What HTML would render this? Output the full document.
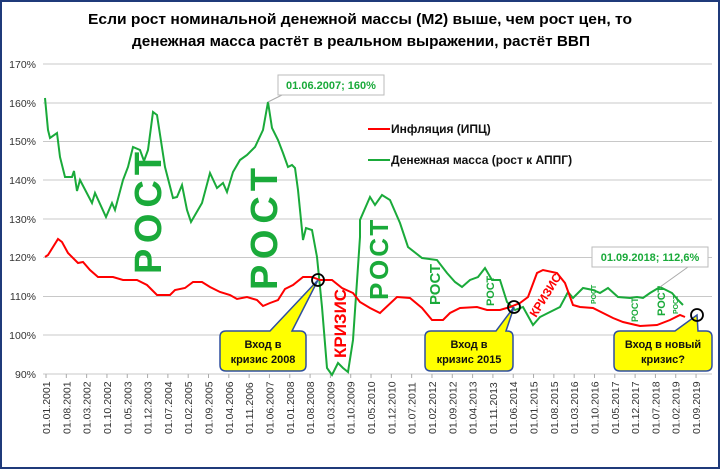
<!DOCTYPE html>
<html><head><meta charset="utf-8"><style>
html,body{margin:0;padding:0;background:#fff}
svg{display:block;font-family:"Liberation Sans","DejaVu Sans",sans-serif}
</style></head><body>
<svg width="720" height="470" viewBox="0 0 720 470" xmlns="http://www.w3.org/2000/svg">
<rect x="1" y="1" width="718" height="467" fill="#fff" stroke="#1f3a7a" stroke-width="2"/>
<g font-weight="bold" font-size="15" fill="#000" text-anchor="middle">
<text x="360" y="24" textLength="544" lengthAdjust="spacingAndGlyphs">Если рост номинальной денежной массы (М2) выше, чем рост цен,  то</text>
<text x="361" y="46" textLength="458" lengthAdjust="spacingAndGlyphs">денежная масса растёт в реальном выражении, растёт ВВП</text>
</g>
<g stroke="#c8c8c8" stroke-width="1">
<line x1="43" y1="64" x2="712" y2="64"/><line x1="43" y1="103" x2="712" y2="103"/>
<line x1="43" y1="141.5" x2="712" y2="141.5"/><line x1="43" y1="180" x2="712" y2="180"/>
<line x1="43" y1="219" x2="712" y2="219"/><line x1="43" y1="257.5" x2="712" y2="257.5"/>
<line x1="43" y1="296.5" x2="712" y2="296.5"/><line x1="43" y1="335" x2="712" y2="335"/>
<line x1="43" y1="374" x2="712" y2="374"/>
</g>
<g font-size="10.5" fill="#333" text-anchor="end">
<text x="36" y="68">170%</text><text x="36" y="107">160%</text><text x="36" y="145">150%</text>
<text x="36" y="184">140%</text><text x="36" y="223">130%</text><text x="36" y="261">120%</text>
<text x="36" y="300">110%</text><text x="36" y="339">100%</text><text x="36" y="378">90%</text>
</g>
<g id="ticks" stroke="#aaa"></g>
<g id="xl" font-size="10.5" fill="#333"></g>
<polyline fill="none" stroke="#1aaa3a" stroke-width="2" points="45,98 48,130 50,138 57,133 60,157 65,177 72,177 74,171 77,191 80,180 92,203 95,193 106,217 112,203 115,210 123,180 128,167 133,147 140,150 144,161 148,150 153,112 157,115 165,167 173,198 177,197 182,185 187,210 191,222 202,203 210,173 217,188 223,183 227,192 233,172 240,160 247,155 255,147 263,130 268,102 272,128 278,140 283,153 288,167 292,165 295,168 298,190 303,240 306,228 312,230 317,257 322,307 327,368 332,375 338,363 343,368 348,372 353,340 360,237 360,220 370,197 375,205 382,195 390,200 400,223 408,247 422,258 437,260 447,273 455,282 462,287 470,280 478,277 485,268 492,280 500,280 507,302 515,310 523,307 533,325 540,317 548,313 560,307 568,292 573,298 583,288 593,290 600,293 608,288 618,297 630,298 637,297 643,298 650,293 660,287 672,293 678,300 683,305"/>
<polyline fill="none" stroke="#ff0000" stroke-width="2" points="45,257 48,255 58,239 62,242 68,253 78,263 83,262 90,270 98,277 113,277 123,280 137,280 147,285 157,295 170,295 175,290 185,288 193,282 202,282 210,287 220,292 230,295 237,299 247,297 257,300 263,306 270,303 278,300 285,289 293,285 303,277 312,277 320,280 332,280 342,288 353,293 360,302 370,308 380,313 397,297 410,298 422,308 432,320 443,320 450,313 460,308 477,307 487,310 500,310 510,307 520,303 528,297 537,273 543,270 557,273 565,283 573,305 580,307 593,308 603,313 613,318 623,322 640,326 657,325 670,320 680,315 685,317"/>
<line x1="368" y1="129" x2="390" y2="129" stroke="#ff0000" stroke-width="2"/>
<text x="391" y="133" font-size="12" font-weight="bold" fill="#111">Инфляция (ИПЦ)</text>
<line x1="368" y1="160" x2="390" y2="160" stroke="#1aaa3a" stroke-width="2"/>
<text x="391" y="164" font-size="12" font-weight="bold" fill="#111">Денежная масса (рост к АППГ)</text>
<line x1="268" y1="102" x2="290" y2="91" stroke="#aaa"/>
<rect x="278" y="75" width="106" height="20" fill="#fff" stroke="#bbb"/>
<text x="331" y="89" font-size="11" font-weight="bold" fill="#1aaa3a" text-anchor="middle">01.06.2007; 160%</text>
<line x1="660" y1="287" x2="688" y2="267" stroke="#aaa"/>
<rect x="592" y="247" width="116" height="20" fill="#fff" stroke="#bbb"/>
<text x="650" y="261" font-size="11" font-weight="bold" fill="#1aaa3a" text-anchor="middle">01.09.2018; 112,6%</text>
<g font-weight="bold" fill="#1aaa3a">
<text transform="translate(161,274) rotate(-90)" font-size="38" letter-spacing="6">РОСТ</text>
<text transform="translate(277,290) rotate(-90)" font-size="38" letter-spacing="6">РОСТ</text>
<text transform="translate(388,300) rotate(-90)" font-size="26" letter-spacing="3">РОСТ</text>
<text transform="translate(440,305) rotate(-90)" font-size="15">РОСТ</text>
<text transform="translate(494,306) rotate(-90)" font-size="11">РОСТ</text>
<text transform="translate(596,304) rotate(-90)" font-size="7">РОСТ</text>
<text transform="translate(638,322) rotate(-90)" font-size="9">РОСТ</text>
<text transform="translate(665,316) rotate(-90)" font-size="11">РОСТ</text>
<text transform="translate(678,314) rotate(-90)" font-size="7">РОСТ</text>
</g>
<text transform="translate(346,358) rotate(-90)" font-size="17" font-weight="bold" fill="#ff0000">КРИЗИС</text>
<text transform="translate(536,318) rotate(-58)" font-size="12" font-weight="bold" fill="#ff0000">КРИЗИС</text>
<g stroke="#2f4f9f" stroke-width="1.5" fill="#ffff00">
<path d="M226,331 L270,331 L318,280 L292,331 L300,331 Q306,331 306,337 L306,365 Q306,371 300,371 L226,371 Q220,371 220,365 L220,337 Q220,331 226,331 Z"/>
<path d="M431,331 L496,331 L514,307 L506,331 L507,331 Q513,331 513,337 L513,365 Q513,371 507,371 L431,371 Q425,371 425,365 L425,337 Q425,331 431,331 Z"/>
<path d="M620,331 L675,331 L697,315 L698,331 L706,331 Q712,331 712,337 L712,365 Q712,371 706,371 L620,371 Q614,371 614,365 L614,337 Q614,331 620,331 Z"/>
</g>
<g font-size="11" font-weight="bold" fill="#111" text-anchor="middle">
<text x="263" y="348">Вход в</text><text x="263" y="363">кризис 2008</text>
<text x="469" y="348">Вход в</text><text x="469" y="363">кризис 2015</text>
<text x="663" y="348">Вход в новый</text><text x="663" y="363">кризис?</text>
</g>
<g fill="none" stroke="#000" stroke-width="1.8">
<circle cx="318" cy="280" r="6"/><circle cx="514" cy="307" r="6"/><circle cx="697" cy="315" r="6"/>
</g>
<script>
var labs=["01.01.2001","01.08.2001","01.03.2002","01.10.2002","01.05.2003","01.12.2003","01.07.2004","01.02.2005","01.09.2005","01.04.2006","01.11.2006","01.06.2007","01.01.2008","01.08.2008","01.03.2009","01.10.2009","01.05.2010","01.12.2010","01.07.2011","01.02.2012","01.09.2012","01.04.2013","01.11.2013","01.06.2014","01.01.2015","01.08.2015","01.03.2016","01.10.2016","01.05.2017","01.12.2017","01.07.2018","01.02.2019","01.09.2019"];
var ns="http://www.w3.org/2000/svg",g=document.getElementById('xl'),t=document.getElementById('ticks');
labs.forEach(function(l,i){var x=46+i*7*2.902;
var e=document.createElementNS(ns,'text');e.setAttribute('transform','translate('+(x+4)+',434) rotate(-90)');e.textContent=l;g.appendChild(e);
var k=document.createElementNS(ns,'line');k.setAttribute('x1',x);k.setAttribute('x2',x);k.setAttribute('y1',374);k.setAttribute('y2',378);t.appendChild(k);});
</script>
</svg>
</body></html>
